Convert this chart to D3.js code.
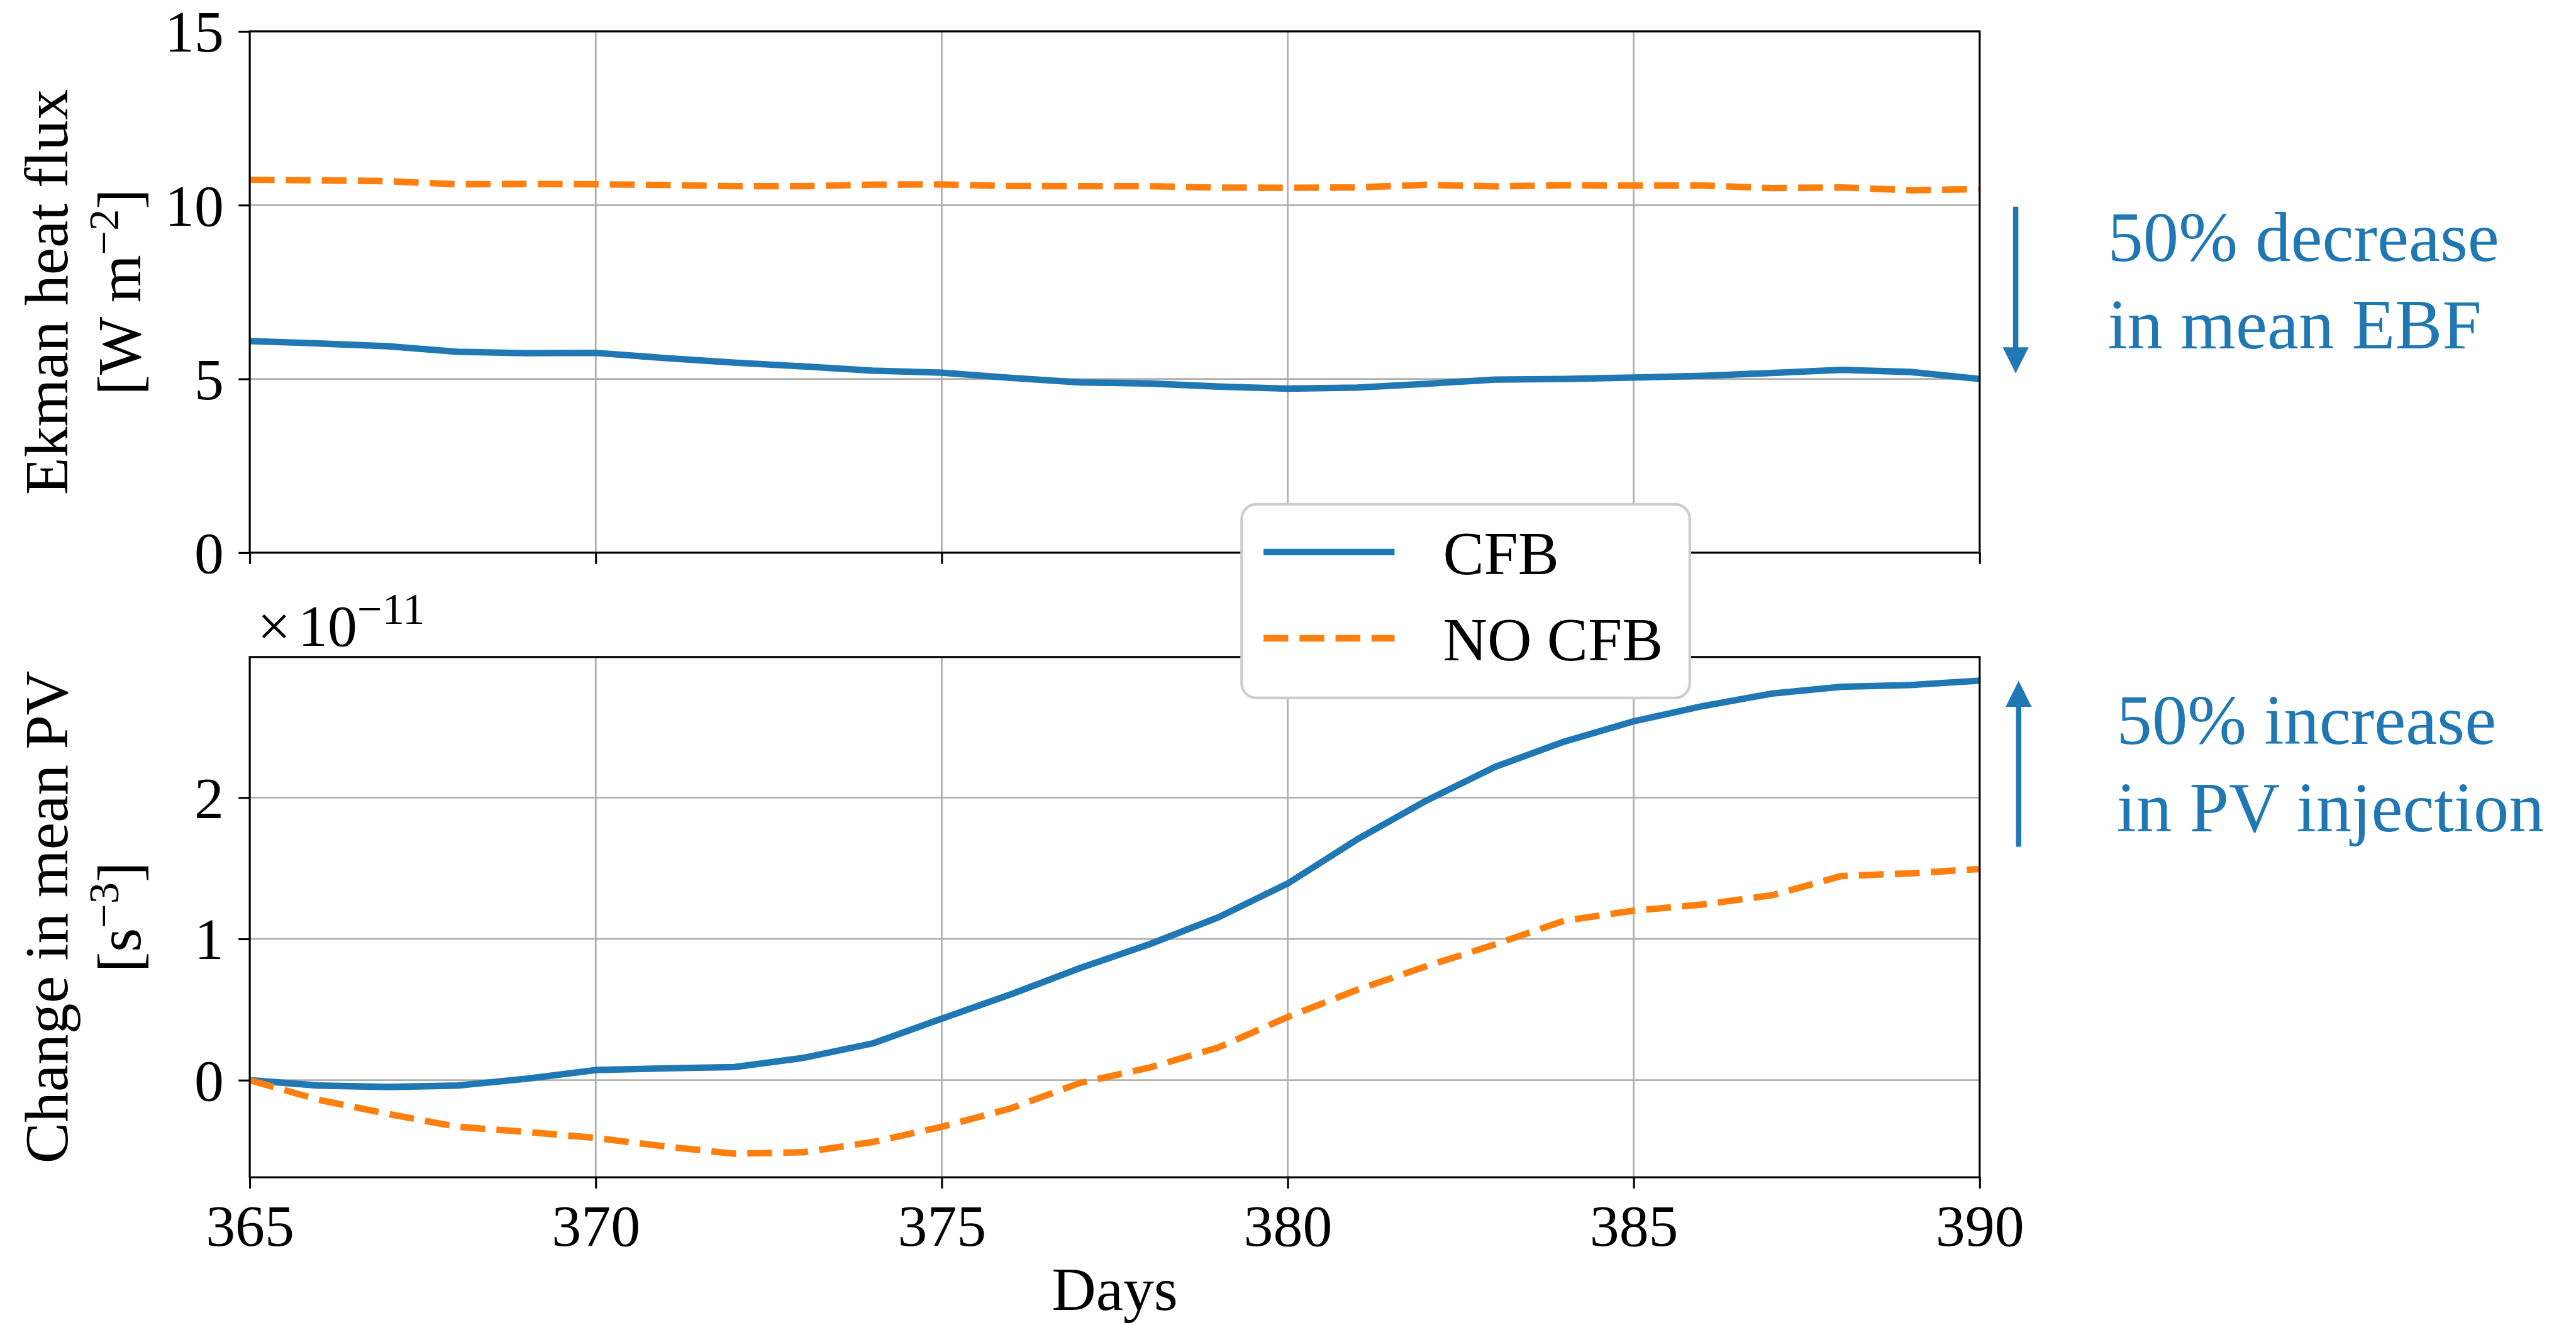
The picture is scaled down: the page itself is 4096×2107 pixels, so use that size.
<!DOCTYPE html>
<html>
<head>
<meta charset="utf-8">
<script src="https://cdn.jsdelivr.net/npm/d3@7"></script>
<style>
  html, body { margin: 0; padding: 0; background: #ffffff; overflow: hidden; }
  svg { display: block; }
</style>
</head>
<body>
<div id="chart"></div>
<script>
// ---- data -------------------------------------------------------------
const days = [365, 366, 367, 368, 369, 370, 371, 372, 373, 374, 375, 376, 377,
              378, 379, 380, 381, 382, 383, 384, 385, 386, 387, 388, 389, 390];

// Ekman heat flux [W m^-2]
const ekmanCFB   = [6.09, 6.02, 5.94, 5.78, 5.74, 5.75, 5.60, 5.47, 5.36, 5.24, 5.18, 5.03, 4.90,
                    4.87, 4.78, 4.72, 4.75, 4.86, 4.98, 5.00, 5.04, 5.09, 5.17, 5.26, 5.20, 5.00];
const ekmanNoCFB = [10.73, 10.715, 10.69, 10.60, 10.61, 10.60, 10.58, 10.545, 10.545, 10.59, 10.595, 10.55, 10.545,
                    10.545, 10.505, 10.50, 10.51, 10.585, 10.54, 10.575, 10.565, 10.565, 10.49, 10.51, 10.43, 10.46];

// Change in mean PV, in units of 1e-11 s^-3
const pvCFB   = [0, -0.038, -0.048, -0.038, 0.01, 0.072, 0.084, 0.093, 0.158, 0.26, 0.435, 0.608, 0.794,
                 0.962, 1.153, 1.392, 1.703, 1.978, 2.218, 2.397, 2.54, 2.648, 2.737, 2.785, 2.797, 2.828];
const pvNoCFB = [0, -0.139, -0.239, -0.33, -0.366, -0.409, -0.469, -0.52, -0.51, -0.438, -0.33, -0.199, -0.019,
                 0.089, 0.232, 0.447, 0.639, 0.806, 0.962, 1.129, 1.2, 1.244, 1.309, 1.445, 1.464, 1.495];

const xTicks = [365, 370, 375, 380, 385, 390];
const ekmanTicks = [0, 5, 10, 15];
const pvTicks = [0, 1, 2];

const seriesNames  = ["CFB", "NO CFB"];
const seriesColors = ["#1f77b4", "#ff7f0e"];

const annotDecrease = ["50% decrease", "in mean EBF"];
const annotIncrease = ["50% increase", "in PV injection"];

// ---- layout (drawn in a 4363 x 2244 coordinate space, scaled to the window) ----
const FONT = "'Liberation Serif', 'Times New Roman', serif";
const W = 4363, H = 2244;
const plotLeft = 423, plotRight = 3353;
const topPanel = { top: 53, bottom: 936 };
const botPanel = { top: 1112.7, bottom: 1994 };
const TICK_FS = 100, LABEL_FS = 104, LEG_FS = 104, ANNOT_FS = 120;
const LINE_W = 11;
const DASH = "42,19";

const svg = d3.select("#chart").append("svg")
  .attr("width", 4096).attr("height", 2107)
  .attr("viewBox", `0 0 ${W} ${H}`)
  .style("font-family", FONT);

svg.append("rect").attr("width", W).attr("height", H).attr("fill", "#ffffff");

const x = d3.scaleLinear().domain([365, 390]).range([plotLeft, plotRight]);

const yTop = d3.scaleLinear().domain([0, 15]).range([topPanel.bottom, topPanel.top]);

// autoscale with a 5% margin on the data range
const pvAll = pvCFB.concat(pvNoCFB);
const pvMin = d3.min(pvAll), pvMax = d3.max(pvAll);
const pvPad = 0.05 * (pvMax - pvMin);
const yBot = d3.scaleLinear().domain([pvMin - pvPad, pvMax + pvPad]).range([botPanel.bottom, botPanel.top]);

const defs = svg.append("defs");

function drawPanel(id, panel, y, yTicks, series, showXLabels) {
  const g = svg.append("g").attr("class", id);

  defs.append("clipPath").attr("id", "clip-" + id)
    .append("rect")
    .attr("x", plotLeft).attr("y", panel.top)
    .attr("width", plotRight - plotLeft).attr("height", panel.bottom - panel.top);

  // grid
  const grid = g.append("g").attr("class", "grid");
  grid.selectAll("line.gx").data(xTicks).join("line")
    .attr("class", "gx")
    .attr("x1", d => x(d)).attr("x2", d => x(d))
    .attr("y1", panel.top).attr("y2", panel.bottom)
    .attr("stroke", "#b0b0b0").attr("stroke-width", 3);
  grid.selectAll("line.gy").data(yTicks).join("line")
    .attr("class", "gy")
    .attr("x1", plotLeft).attr("x2", plotRight)
    .attr("y1", d => y(d)).attr("y2", d => y(d))
    .attr("stroke", "#b0b0b0").attr("stroke-width", 3);

  // series
  const line = d3.line().x((d, i) => x(days[i])).y(d => y(d));
  const lines = g.append("g").attr("clip-path", `url(#clip-${id})`);
  series.forEach((vals, k) => {
    lines.append("path")
      .datum(vals)
      .attr("d", line)
      .attr("fill", "none")
      .attr("stroke", seriesColors[k])
      .attr("stroke-width", LINE_W)
      .attr("stroke-linejoin", "round")
      .attr("stroke-linecap", k === 0 ? "square" : "butt")
      .attr("stroke-dasharray", k === 1 ? DASH : null);
  });

  // axes
  const xAxis = d3.axisBottom(x).tickValues(xTicks).tickSize(19).tickSizeOuter(0).tickPadding(26)
    .tickFormat(showXLabels ? d3.format("d") : () => "");
  const gx = g.append("g").attr("transform", `translate(0,${panel.bottom})`).call(xAxis);

  const yAxis = d3.axisLeft(y).tickValues(yTicks).tickSize(19).tickSizeOuter(0).tickPadding(25)
    .tickFormat(d3.format("d"));
  const gy = g.append("g").attr("transform", `translate(${plotLeft},0)`).call(yAxis);

  [gx, gy].forEach(a => {
    a.select(".domain").remove();
    a.selectAll(".tick line").attr("stroke", "#000").attr("stroke-width", 3.3);
    a.selectAll(".tick text")
      .attr("fill", "#000")
      .style("font-family", FONT)
      .style("font-size", TICK_FS + "px");
  });
  gy.selectAll(".tick text").attr("dy", "0.34em");

  // spines
  g.append("rect")
    .attr("x", plotLeft).attr("y", panel.top)
    .attr("width", plotRight - plotLeft).attr("height", panel.bottom - panel.top)
    .attr("fill", "none").attr("stroke", "#000").attr("stroke-width", 3.3);

  return g;
}

drawPanel("ekman", topPanel, yTop, ekmanTicks, [ekmanCFB, ekmanNoCFB], false);
drawPanel("pv", botPanel, yBot, pvTicks, [pvCFB, pvNoCFB], true);

// ---- axis labels ------------------------------------------------------
function yLabel(cy, line1, line2Pre, line2Sup, line2Post) {
  const g = svg.append("g").style("font-size", LABEL_FS + "px").attr("fill", "#000");
  g.append("text")
    .attr("transform", `translate(114,${cy}) rotate(-90)`)
    .attr("text-anchor", "middle")
    .text(line1);
  const t = g.append("text")
    .attr("transform", `translate(238,${cy}) rotate(-90)`)
    .attr("text-anchor", "middle");
  t.append("tspan").text(line2Pre);
  t.append("tspan").attr("dy", -38).style("font-size", (LABEL_FS * 0.7) + "px").text(line2Sup);
  t.append("tspan").attr("dy", 38).text(line2Post);
}
yLabel((topPanel.top + topPanel.bottom) / 2, "Ekman heat flux", "[W m", "\u22122", "]");
yLabel((botPanel.top + botPanel.bottom) / 2, "Change in mean PV", "[s", "\u22123", "]");

// x label
svg.append("text")
  .attr("x", (plotLeft + plotRight) / 2).attr("y", 2219)
  .attr("text-anchor", "middle")
  .style("font-size", LABEL_FS + "px")
  .text("Days");

// offset (scale) text of the PV axis
const off = svg.append("text")
  .attr("y", 1094)
  .style("font-size", TICK_FS + "px");
off.append("tspan").attr("x", 436).text("\u00d7");
off.append("tspan").attr("x", 505).text("10");
off.append("tspan").attr("x", 605).attr("dy", -37).style("font-size", (TICK_FS * 0.75) + "px").text("\u221211");

// ---- legend -----------------------------------------------------------
const leg = svg.append("g").attr("class", "legend");
leg.append("rect")
  .attr("x", 2103).attr("y", 854).attr("width", 759).attr("height", 328)
  .attr("rx", 25).attr("ry", 25)
  .attr("fill", "#ffffff").attr("stroke", "#cccccc").attr("stroke-width", 4.5);
const legRows = [935, 1081];
seriesNames.forEach((name, k) => {
  leg.append("line")
    .attr("x1", 2140).attr("x2", 2362)
    .attr("y1", legRows[k]).attr("y2", legRows[k])
    .attr("stroke", seriesColors[k]).attr("stroke-width", LINE_W)
    .attr("stroke-dasharray", k === 1 ? DASH : null);
  leg.append("text")
    .attr("x", 2444).attr("y", legRows[k] + 37)
    .style("font-size", LEG_FS + "px")
    .text(name);
});

// ---- annotations ------------------------------------------------------
const annColor = seriesColors[0];
function arrow(xPos, yFrom, yTo) {
  const dir = yTo > yFrom ? 1 : -1;
  const headLen = 44, headHalf = 22;
  const a = svg.append("g").attr("fill", annColor).attr("stroke", "none");
  a.append("line")
    .attr("x1", xPos).attr("x2", xPos)
    .attr("y1", yFrom).attr("y2", yTo - dir * (headLen - 2))
    .attr("stroke", annColor).attr("stroke-width", 9);
  a.append("path")
    .attr("d", `M${xPos - headHalf},${yTo - dir * headLen} L${xPos + headHalf},${yTo - dir * headLen} L${xPos},${yTo} Z`);
}
arrow(3414, 350, 632);
arrow(3419, 1434, 1153);

function annot(x0, y0, lines) {
  const t = svg.append("text")
    .attr("fill", annColor)
    .style("font-size", ANNOT_FS + "px");
  lines.forEach((s, i) => {
    t.append("tspan").attr("x", x0).attr("y", y0 + i * 148).text(s);
  });
}
annot(3570, 442, annotDecrease);
annot(3585, 1260, annotIncrease);
</script>
</body>
</html>
